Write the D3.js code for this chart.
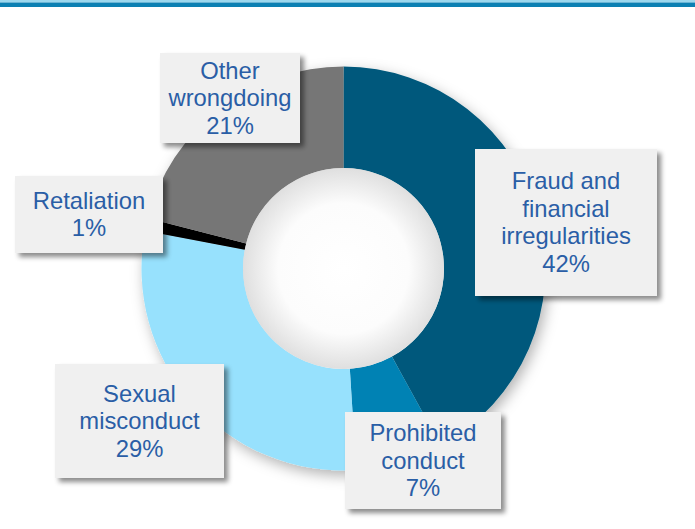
<!DOCTYPE html>
<html>
<head>
<meta charset="utf-8">
<script src="https://cdn.jsdelivr.net/npm/d3@7"></script>
<style>
  body { margin: 0; background: #fff; }
  svg { display: block; }
</style>
</head>
<body>
<svg id="chart" width="695" height="529"></svg>
<script>
// data
const categories = ["Fraud and financial irregularities", "Prohibited conduct", "Sexual misconduct", "Retaliation", "Other wrongdoing"]
const values = [42, 7, 29, 1, 21]
const labelLines = [
    ["Fraud and", "financial", "irregularities"],
    ["Prohibited", "conduct"],
    ["Sexual", "misconduct"],
    ["Retaliation"],
    ["Other", "wrongdoing"]
]
const colors = ["#02597b", "#0182b4", "#97e1fd", "#000000", "#767676"]

// label box layout (x, y, w, h) per slice
const boxes = [
    [475, 149, 182, 147],
    [345, 412, 156, 97],
    [55, 364, 169, 114],
    [15, 176, 148, 77],
    [160, 53, 140, 90]
]

const svg = d3.select("#chart")
const width = +svg.attr("width")
const height = +svg.attr("height")
const cx = 343.5, cy = 268.5
const outerR = 202, innerR = 100.5

const defs = svg.append("defs")

// soft glow round the ring
const ringShadow = defs.append("filter").attr("id", "ringShadow")
    .attr("x", "-20%").attr("y", "-20%").attr("width", "140%").attr("height", "140%")
ringShadow.append("feDropShadow")
    .attr("dx", 3).attr("dy", 5).attr("stdDeviation", 7)
    .attr("flood-color", "#000").attr("flood-opacity", 0.3)

// box shadow
const boxShadow = defs.append("filter").attr("id", "boxShadow")
    .attr("x", "-10%").attr("y", "-10%").attr("width", "130%").attr("height", "130%")
boxShadow.append("feDropShadow")
    .attr("dx", 4).attr("dy", 4).attr("stdDeviation", 2.5)
    .attr("flood-color", "#000").attr("flood-opacity", 0.45)

// hole: white centre fading to grey at the rim
const holeGrad = defs.append("radialGradient").attr("id", "holeGrad")
holeGrad.append("stop").attr("offset", "0%").attr("stop-color", "#ffffff")
holeGrad.append("stop").attr("offset", "65%").attr("stop-color", "#fcfcfc")
holeGrad.append("stop").attr("offset", "100%").attr("stop-color", "#dfdfdf")

// top rule
svg.append("rect").attr("x", 0).attr("y", 0).attr("width", width).attr("height", 2.5).attr("fill", "#9cd8ee")
svg.append("rect").attr("x", 0).attr("y", 2.5).attr("width", width).attr("height", 4.5).attr("fill", "#0b80b3")

const pie = d3.pie().sort(null).startAngle(0).endAngle(2 * Math.PI)
const arc = d3.arc().innerRadius(innerR).outerRadius(outerR)
const arcs = pie(values)

const ring = svg.append("g")
    .attr("transform", `translate(${cx},${cy})`)

ring.append("g")
    .attr("filter", "url(#ringShadow)")
    .selectAll("path").data(arcs)
    .enter().append("path")
    .attr("d", arc)
    .attr("fill", (d, i) => colors[i])

ring.append("circle")
    .attr("r", innerR)
    .attr("fill", "url(#holeGrad)")

// labels
const labels = svg.append("g")
    .attr("font-family", "Liberation Sans, Arial, sans-serif")
    .attr("font-size", "23.8px")
    .attr("fill", "#2a5ea6")

const lineH = 27.5

arcs.forEach((d, i) => {
    const [bx, by, bw, bh] = boxes[i]
    const g = labels.append("g")
    g.append("rect")
        .attr("x", bx).attr("y", by)
        .attr("width", bw).attr("height", bh)
        .attr("fill", "#f0f0f0")
        .attr("filter", "url(#boxShadow)")
    const lines = labelLines[i].concat([d3.format(".0f")(d.data) + "%"])
    const n = lines.length
    const mid = by + bh / 2
    lines.forEach((t, k) => {
        g.append("text")
            .attr("x", bx + bw / 2)
            .attr("y", mid + (k - (n - 1) / 2) * lineH + 8)
            .attr("text-anchor", "middle")
            .text(t)
    })
})
</script>
</body>
</html>
